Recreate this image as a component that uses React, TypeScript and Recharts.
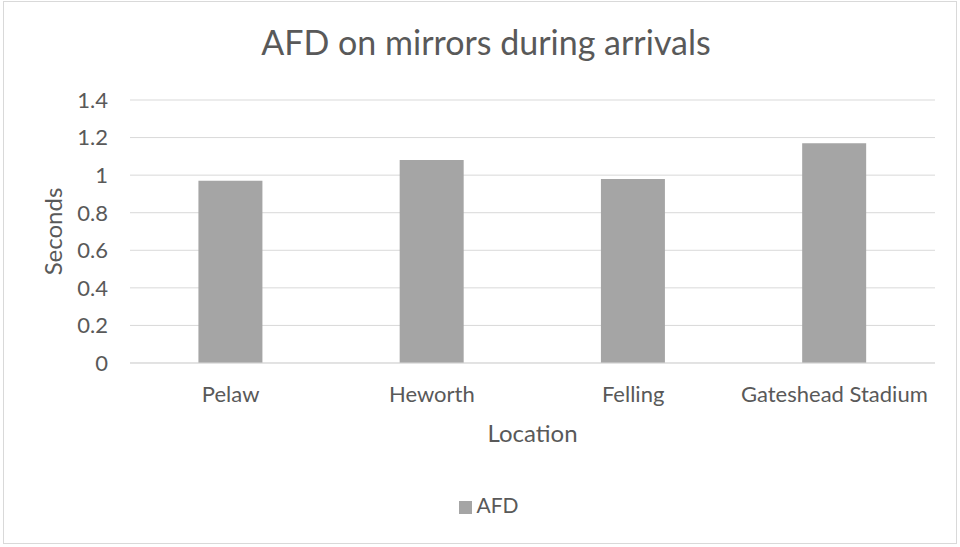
import React from 'react';
import { BarChart, Bar, XAxis, YAxis, CartesianGrid, Legend } from 'recharts';

const categories = ['Pelaw', 'Heworth', 'Felling', 'Gateshead Stadium'];
const afdValues = [0.97, 1.08, 0.98, 1.17];
const yTicks = [0, 0.2, 0.4, 0.6, 0.8, 1, 1.2, 1.4];

const data = categories.map((c, i) => ({ name: c, AFD: afdValues[i] }));

const FONT = 'Lato, "Open Sans", sans-serif';
const TEXT = '#595959';

export default function App() {
  return (
    <div style={{ position: 'absolute', left: 0, top: 0, width: 960, height: 547, background: '#fff', fontFamily: FONT }}>
      <div style={{ position: 'absolute', left: 3, top: 1, width: 952, height: 541, border: '1px solid #d9d9d9' }} />
      <div style={{ position: 'absolute', left: 6, top: 22, width: 960, textAlign: 'center', fontSize: 34, color: TEXT, lineHeight: '40px' }}>
        AFD on mirrors during arrivals
      </div>
      <BarChart
        width={960}
        height={547}
        data={data}
        margin={{ top: 100, right: 25, bottom: 0, left: 0 }}
        barCategoryGap="34%"
        style={{ position: 'absolute', left: 0, top: 0 }}
      >
        <CartesianGrid vertical={false} stroke="#d9d9d9" strokeWidth={1} />
        <XAxis
          dataKey="name"
          axisLine={{ stroke: '#d9d9d9' }}
          tickLine={false}
          tickSize={0}
          tickMargin={23}
          height={184}
          tick={{ fill: TEXT, fontSize: 22, fontFamily: FONT }}
          label={{ value: 'Location', position: 'insideTop', offset: 62, fill: TEXT, fontSize: 24, fontFamily: FONT }}
        />
        <YAxis
          domain={[0, 1.4]}
          ticks={yTicks}
          axisLine={false}
          tickLine={false}
          tickSize={0}
          tickMargin={22}
          width={130}
          interval={0}
          tick={{ fill: TEXT, fontSize: 22, fontFamily: FONT }}
          label={{ value: 'Seconds', angle: -90, position: 'center', dx: -12, fill: TEXT, fontSize: 24, fontFamily: FONT }}
        />
        <Legend
          verticalAlign="middle"
          layout="horizontal"
          align="center"
          iconType="square"
          iconSize={13}
          wrapperStyle={{ top: 492, left: 14, width: 960, fontSize: 21, fontFamily: FONT }}
          formatter={(v) => <span style={{ color: TEXT }}>{v}</span>}
        />
        <Bar dataKey="AFD" fill="#a5a5a5" isAnimationActive={false} />
      </BarChart>
    </div>
  );
}
